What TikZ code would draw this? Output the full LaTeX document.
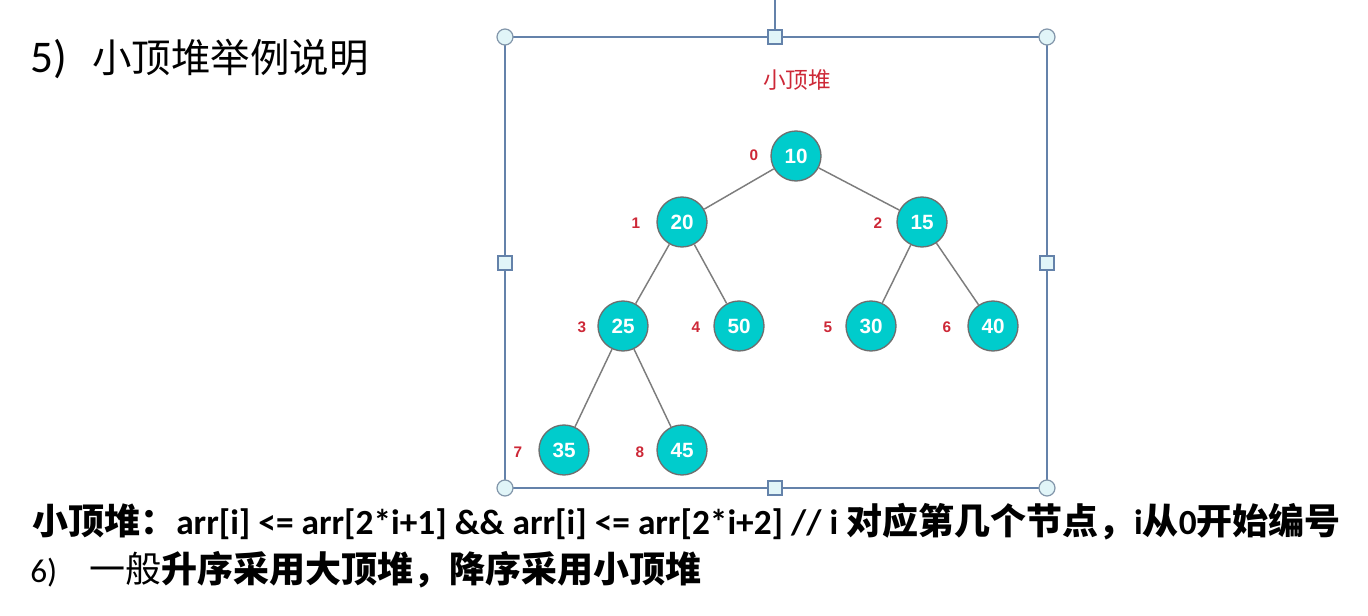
\documentclass[tikz,border=0pt]{standalone}
\usepackage{fontspec}
\setmainfont{Carlito}
\newfontfamily\cjk{Noto Sans CJK SC}
\newfontfamily\numfont{Liberation Sans}
\definecolor{heapfill}{RGB}{0,204,204}
\definecolor{heapedge}{RGB}{110,110,110}
\definecolor{idxred}{RGB}{205,40,55}
\definecolor{framecol}{RGB}{100,130,170}
\definecolor{handlefill}{RGB}{225,245,248}
\definecolor{handledraw}{RGB}{130,150,170}
\newcommand{\cjkb}[1]{{\cjk\bfseries\fontsize{27}{27}\selectfont #1}}
\begin{document}
\begin{tikzpicture}[x=0.75pt,y=-0.75pt,
  heapnode/.style={circle,minimum size=37.5pt,inner sep=0pt,fill=heapfill,draw=heapedge,line width=1pt,
    text=white,font=\numfont\bfseries\fontsize{15.5}{15.5}\selectfont},
  idx/.style={text=idxred,font=\numfont\bfseries\fontsize{11.5}{11.5}\selectfont,inner sep=0pt},
  link/.style={draw=heapedge!90,line width=1.1pt},
  framebox/.style={draw=framecol,line width=1.4pt},
  cornerh/.style={circle,minimum size=12pt,inner sep=0pt,fill=handlefill,draw=handledraw,line width=0.9pt},
  sideh/.style={rectangle,minimum size=10.5pt,inner sep=0pt,fill=handlefill,draw=framecol,line width=0.9pt},
  txt/.style={anchor=west,inner sep=0pt,text=black}
]
\useasboundingbox (0,0) rectangle (1368,616);
% heading
\node[txt,font=\fontsize{34}{34}\selectfont] (h5) at (30,59) {5)\hspace{19pt}{\cjk\fontsize{29.6}{29.6}\selectfont 小顶堆举例说明}};
% selection frame
\coordinate (tl) at (505,37);
\coordinate (tr) at (1047,37);
\coordinate (bl) at (505,488);
\coordinate (br) at (1047,488);
\coordinate (top) at (775,0);
\draw[framebox] (tl) rectangle (br);
\node[sideh] (tm) at (775,37) {};
\draw[framebox] (top) -- (tm);
\node[sideh] (bm) at (775,488) {};
\node[sideh] (lm) at (505,263) {};
\node[sideh] (rm) at (1047,263) {};
\node[cornerh] (c1) at (tl) {};
\node[cornerh] (c2) at (tr) {};
\node[cornerh] (c3) at (bl) {};
\node[cornerh] (c4) at (br) {};
% title
\node[text=idxred,font=\cjk\fontsize{17}{17}\selectfont,inner sep=0pt] (title) at (797,80) {小顶堆};
% heap nodes
\node[heapnode] (n0) at (796,156) {10};
\node[heapnode] (n1) at (682,222) {20};
\node[heapnode] (n2) at (922,222) {15};
\node[heapnode] (n3) at (623,326) {25};
\node[heapnode] (n4) at (739,326) {50};
\node[heapnode] (n5) at (871,326) {30};
\node[heapnode] (n6) at (993,326) {40};
\node[heapnode] (n7) at (564,450) {35};
\node[heapnode] (n8) at (682,450) {45};
\draw[link] (n0) -- (n1);
\draw[link] (n0) -- (n2);
\draw[link] (n1) -- (n3);
\draw[link] (n1) -- (n4);
\draw[link] (n2) -- (n5);
\draw[link] (n2) -- (n6);
\draw[link] (n3) -- (n7);
\draw[link] (n3) -- (n8);
% indices
\node[idx] (i0) at (754,155) {0};
\node[idx] (i1) at (636,223) {1};
\node[idx] (i2) at (878,223) {2};
\node[idx] (i3) at (582,327) {3};
\node[idx] (i4) at (696,327) {4};
\node[idx] (i5) at (828,327) {5};
\node[idx] (i6) at (947,327) {6};
\node[idx] (i7) at (518,452) {7};
\node[idx] (i8) at (640,452) {8};
% bottom lines
\node[txt,font=\bfseries\fontsize{26.5}{26.5}\selectfont] (l1) at (32,522)
  {\cjkb{小顶堆：}arr[i] <= arr[2*i+1] \&\& arr[i] <= arr[2*i+2] // i \cjkb{对应第几个节点，}i\cjkb{从}0\cjkb{开始编号}};
\node[txt,font=\fontsize{25}{25}\selectfont] (l2) at (30,570)
  {6)\hspace{24pt}{\cjk\fontsize{27}{27}\selectfont 一般{\bfseries 升序采用大顶堆，降序采用小顶堆}}};
\end{tikzpicture}
\end{document}
